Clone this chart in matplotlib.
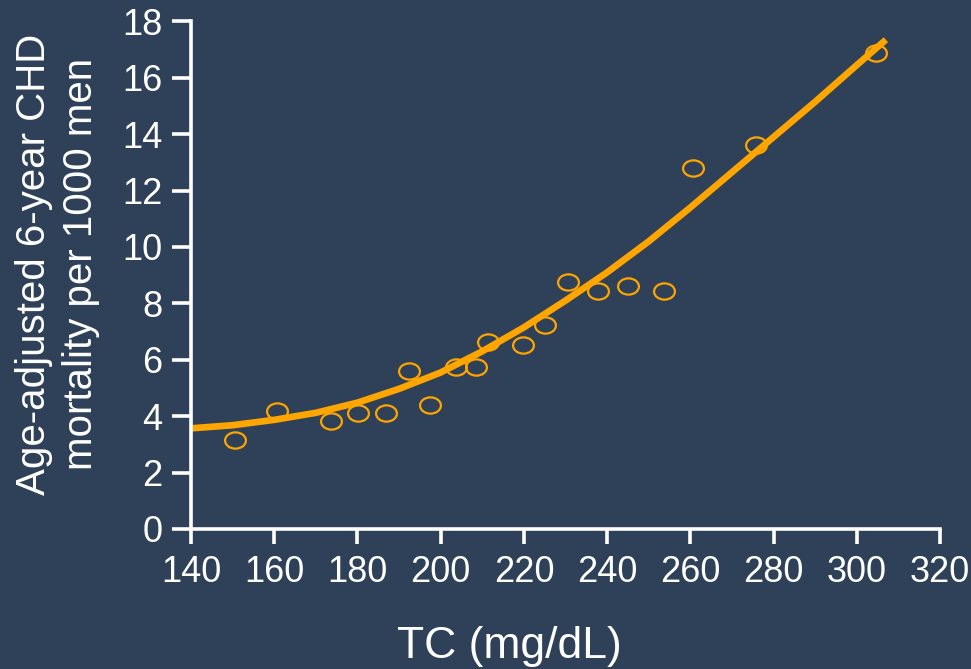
import matplotlib
matplotlib.use("Agg")
import matplotlib.pyplot as plt
from matplotlib.path import Path
from matplotlib.transforms import Affine2D

# observed points: total cholesterol vs CHD mortality
tc_points = [150.6, 160.6, 173.6, 180.1, 186.8, 192.3, 197.4, 203.6, 208.6, 211.3,
             219.7, 225.0, 230.7, 237.7, 245.1, 253.7, 260.7, 275.8, 304.6]
mort_points = [3.16, 4.18, 3.83, 4.11, 4.11, 5.60, 4.40, 5.74, 5.74, 6.63,
               6.52, 7.23, 8.76, 8.44, 8.62, 8.44, 12.80, 13.62, 16.88]

# fitted curve
tc_curve = [140, 150, 160, 170, 180, 190, 200, 210, 220, 230, 240, 250,
            260, 270, 280, 290, 300, 307]
mort_curve = [3.57, 3.68, 3.87, 4.12, 4.48, 4.97, 5.55, 6.30, 7.15, 8.10, 9.10, 10.20,
              11.40, 12.65, 13.90, 15.15, 16.45, 17.35]

x_ticks = [140, 160, 180, 200, 220, 240, 260, 280, 300, 320]
y_ticks = [0, 2, 4, 6, 8, 10, 12, 14, 16, 18]

BG = "#2E4158"
ORANGE = "#FFA500"
FG = "white"

plt.rcParams["font.family"] = ["Liberation Sans", "DejaVu Sans"]

fig = plt.figure(figsize=(9.71, 6.69), dpi=100, facecolor=BG)
W, H = 971, 669
ax = fig.add_axes([191 / W, 1 - 529 / H, 749 / W, (529 - 21.4) / H])
ax.set_facecolor(BG)

ellipse = Path.unit_circle().transformed(Affine2D().scale(1.0, 0.78))

ax.plot(tc_curve, mort_curve, color=ORANGE, lw=4.8, solid_capstyle="butt",
        solid_joinstyle="round", zorder=2)
ax.plot(tc_points, mort_points, linestyle="none", marker=ellipse, markersize=15,
        markerfacecolor="none", markeredgecolor=ORANGE, markeredgewidth=1.6, zorder=3)

ax.set_xlim(140, 320)
ax.set_ylim(0, 18)
ax.set_xticks(x_ticks)
ax.set_yticks(y_ticks)

for side in ("top", "right"):
    ax.spines[side].set_visible(False)
for side in ("left", "bottom"):
    ax.spines[side].set_color(FG)
    ax.spines[side].set_linewidth(2.6)

ax.tick_params(axis="y", colors=FG, length=13.5, width=2.6, pad=7, labelsize=26)
ax.tick_params(axis="x", colors=FG, length=11, width=2.6, pad=8, labelsize=26)

fig.text(57.5 / W, 1 - 264 / H, "Age-adjusted 6-year CHD\nmortality per 1000 men",
         rotation=90, ha="center", va="center", multialignment="center",
         linespacing=1.29, color=FG, fontsize=29)
fig.text(509 / W, 1 - 658 / H, "TC (mg/dL)", ha="center", va="baseline",
         color=FG, fontsize=32)

fig.savefig("out.png", dpi=100, facecolor=BG)
